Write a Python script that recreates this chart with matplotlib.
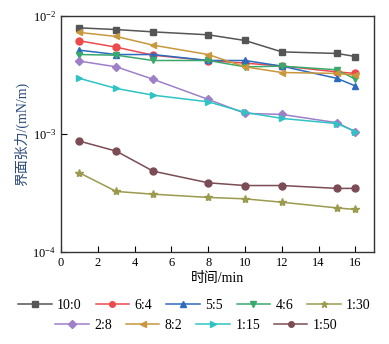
import matplotlib
matplotlib.use("Agg")
import matplotlib.pyplot as plt

plt.rcParams['font.family'] = ['Liberation Serif', 'Noto Sans CJK SC']
plt.rcParams['mathtext.fontset'] = 'stix'

t = [1, 3, 5, 8, 10, 12, 15, 16]

labels = ["10:0", "6:4", "5:5", "4:6", "1:30", "2:8", "8:2", "1:15", "1:50"]
ift = {
    "10:0": [0.00796, 0.0077, 0.00736, 0.00695, 0.00622, 0.00498, 0.00483, 0.00455],
    "6:4":  [0.00618, 0.00546, 0.00467, 0.0042, 0.0040, 0.00378, 0.00337, 0.00327],
    "5:5":  [0.00515, 0.00473, 0.00473, 0.00421, 0.00421, 0.00377, 0.00297, 0.00256],
    "4:6":  [0.00473, 0.00467, 0.00421, 0.00421, 0.00372, 0.00377, 0.00351, 0.00292],
    "1:30": [0.00047, 0.000327, 0.00031, 0.000291, 0.000283, 0.000265, 0.000237, 0.00023],
    "2:8":  [0.00416, 0.00372, 0.00292, 0.00197, 0.0015, 0.00147, 0.00125, 0.00105],
    "8:2":  [0.00728, 0.00673, 0.00568, 0.00473, 0.00372, 0.00333, 0.00327, 0.00316],
    "1:15": [0.00297, 0.00244, 0.00214, 0.00188, 0.00153, 0.00136, 0.00123, 0.00105],
    "1:50": [0.000873, 0.000718, 0.000486, 0.000387, 0.000367, 0.000367, 0.000347, 0.000347],
}
colors = {
    "10:0": "#555555", "6:4": "#ec4a4d", "5:5": "#2c6bbd", "4:6": "#3aa96c",
    "1:30": "#9b9a4e", "2:8": "#9d80c8", "8:2": "#c9973c", "1:15": "#2fc3c6",
    "1:50": "#7b4c55",
}
markers = {
    "10:0": "s", "6:4": "o", "5:5": "^", "4:6": "v", "1:30": "*",
    "2:8": "D", "8:2": "<", "1:15": ">", "1:50": "o",
}

fig = plt.figure(figsize=(3.89, 3.44), dpi=100)
ax = fig.add_axes([0.157, 0.267, 0.804, 0.686])

handles = {}
for name in labels:
    ms = 6 if markers[name] == "*" else 5
    if markers[name] == "D":
        ms = 4.5
    h, = ax.plot(t, ift[name], color=colors[name], marker=markers[name],
                 ms=ms, lw=1.1, label=name)
    handles[name] = h

ax.set_yscale('log')
ax.set_ylim(1e-4, 1e-2)
ax.set_xlim(0, 17)
ax.set_xticks(range(0, 17, 2))
ax.minorticks_off()
ax.tick_params(direction='in', labelsize=9, length=4, width=0.8)
for s in ax.spines.values():
    s.set_linewidth(1.0)
    s.set_color('#333333')

ax.set_xlabel("时间/min", fontsize=10, labelpad=2)
ax.set_ylabel("界面张力/(mN/m)", fontsize=10, color="#2b4a7a", labelpad=2)

# two legend rows, second one centred under the first
row1 = ["10:0", "6:4", "5:5", "4:6", "1:30"]
row2 = ["2:8", "8:2", "1:15", "1:50"]
fig.legend([handles[n] for n in row1], row1, ncol=5, loc='center',
           bbox_to_anchor=(0.5, 0.112), frameon=False, fontsize=10,
           handlelength=2.4, columnspacing=1.0, handletextpad=0.4,
           markerscale=0.8)
fig.legend([handles[n] for n in row2], row2, ncol=4, loc='center',
           bbox_to_anchor=(0.505, 0.055), frameon=False, fontsize=10,
           handlelength=2.4, columnspacing=1.0, handletextpad=0.4,
           markerscale=0.8)

fig.savefig("out.png", dpi=100)
